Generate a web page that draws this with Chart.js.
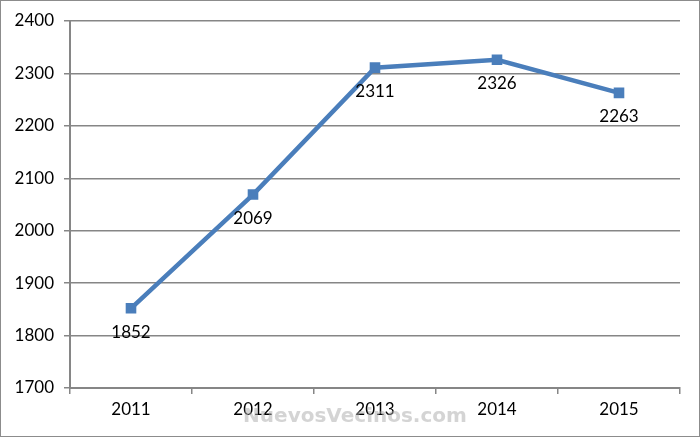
<!DOCTYPE html>
<html>
<head>
<meta charset="utf-8">
<script src="https://cdn.jsdelivr.net/npm/chart.js@4"></script>
<style>
  html, body { margin: 0; padding: 0; background: #fff; }
  #wrap { width: 700px; height: 437px; }
</style>
</head>
<body>
<div id="wrap"><canvas id="chart" width="700" height="437"></canvas></div>
<script>
/* data */
const years   = ['2011', '2012', '2013', '2014', '2015'];
const values  = [1852, 2069, 2311, 2326, 2263];
const yTicks  = [1700, 1800, 1900, 2000, 2100, 2200, 2300, 2400];

const FONT = "Lato, 'Open Sans', sans-serif";

// frame + watermark + point labels
const decor = {
  id: 'decor',
  beforeDraw(chart) {
    const c = chart.ctx;
    c.save();
    c.fillStyle = '#fff';
    c.fillRect(0, 0, chart.width, chart.height);
    c.strokeStyle = '#8c8c8c';
    c.lineWidth = 1;
    c.strokeRect(0.5, 0.5, chart.width - 1, chart.height - 1);
    c.restore();
  },
  afterDatasetsDraw(chart) {
    const c = chart.ctx;
    const meta = chart.getDatasetMeta(0);
    c.save();
    c.font = '17px ' + FONT;
    c.fillStyle = '#000';
    c.textAlign = 'center';
    c.textBaseline = 'middle';
    meta.data.forEach((pt, i) => {
      c.fillText(String(values[i]), pt.x, pt.y + 24);
    });
    c.restore();
  },
  afterDraw(chart) {
    const c = chart.ctx;
    c.save();
    c.font = 'bold 20px "DejaVu Sans", sans-serif';
    c.fillStyle = 'rgba(170,170,170,0.5)';
    c.textAlign = 'center';
    c.textBaseline = 'middle';
    c.fillText('NuevosVecinos.com', 355, 417);
    c.restore();
  }
};

new Chart(document.getElementById('chart'), {
  type: 'line',
  data: {
    labels: years,
    datasets: [{
      data: values,
      borderColor: '#4A7EBB',
      backgroundColor: '#4A7EBB',
      borderWidth: 4.5,
      tension: 0,
      pointStyle: 'rect',
      pointRadius: 7.5,
      pointBorderWidth: 0
    }]
  },
  options: {
    responsive: false,
    animation: false,
    devicePixelRatio: 1,
    layout: { padding: { top: 21, right: 20, left: 0, bottom: 0 } },
    plugins: { legend: { display: false }, tooltip: { enabled: false } },
    scales: {
      x: {
        offset: true,
        grid: {
          offset: true,
          drawOnChartArea: false,
          drawTicks: true,
          tickLength: 6,
          color: '#868686',
          lineWidth: 1.5
        },
        border: { color: '#868686', width: 2 },
        ticks: { color: '#000', font: { family: FONT, size: 17 }, padding: 5 },
        afterFit(s) { s.height = 49; }
      },
      y: {
        min: 1700,
        max: 2400,
        afterBuildTicks(s) { s.ticks = yTicks.map(v => ({ value: v })); },
        grid: { color: '#868686', lineWidth: 1.5, tickLength: 6 },
        border: { color: '#868686', width: 2 },
        ticks: {
          color: '#000',
          font: { family: FONT, size: 17 },
          padding: 10,
          callback: (v) => String(v)
        },
        afterFit(s) { s.width = 70; }
      }
    }
  },
  plugins: [decor]
});
</script>
</body>
</html>
